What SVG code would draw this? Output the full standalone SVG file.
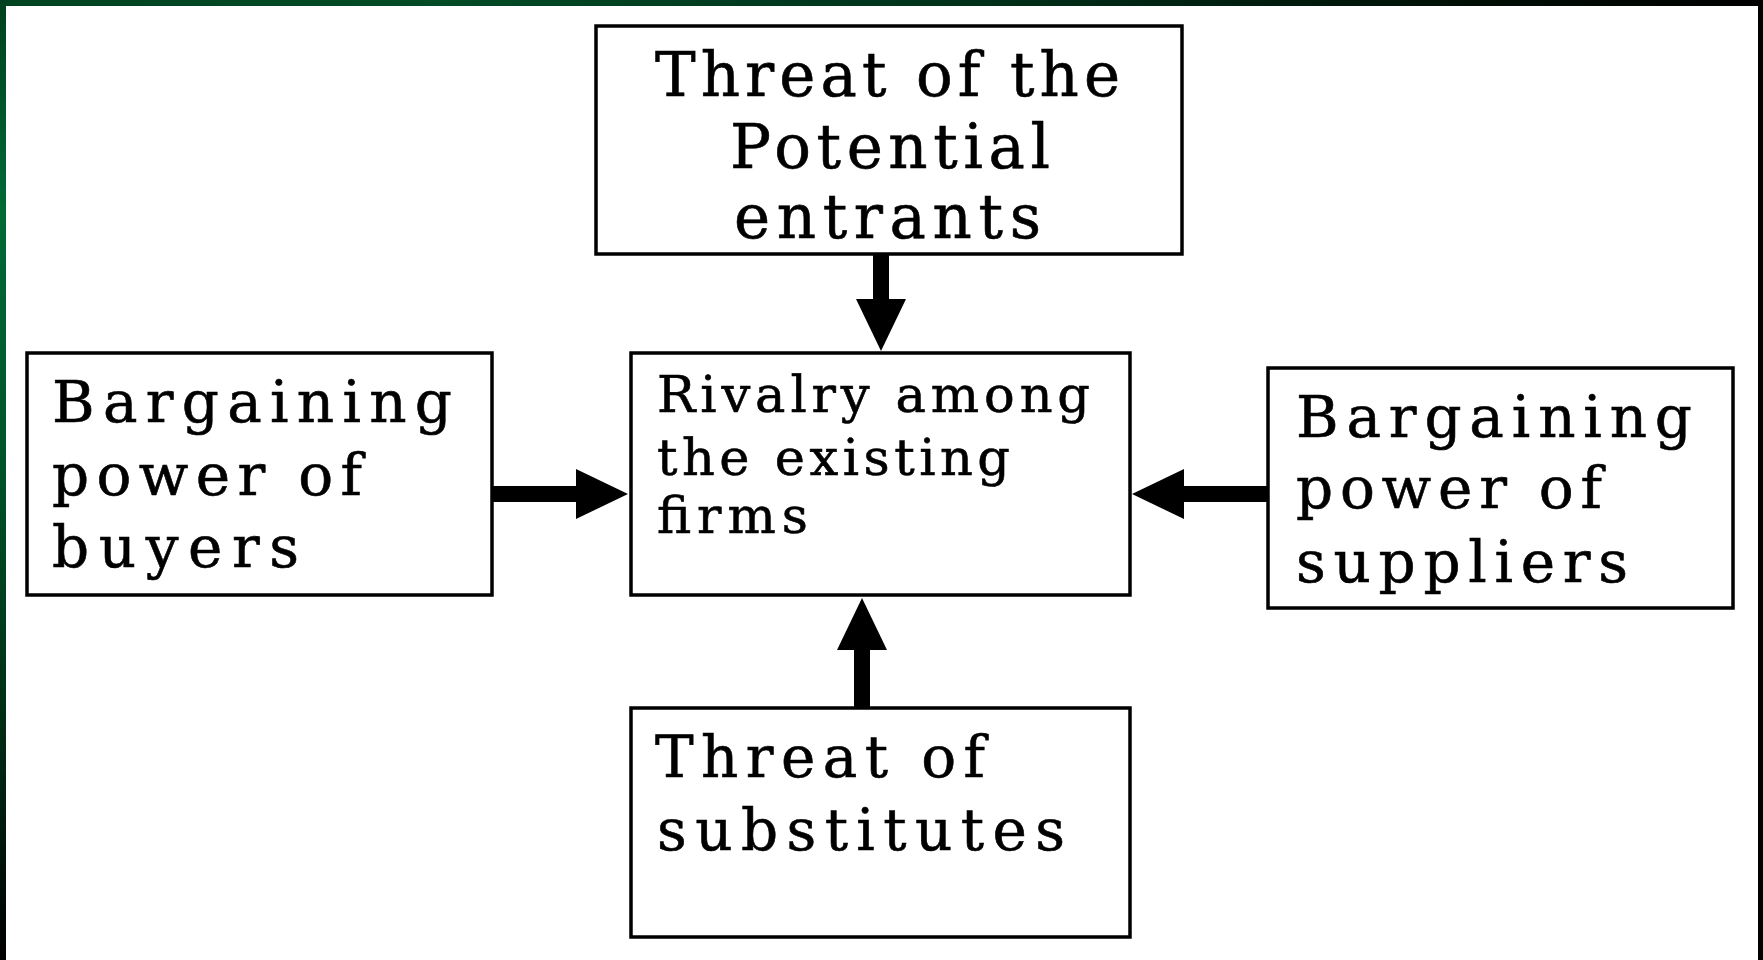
<svg xmlns="http://www.w3.org/2000/svg" width="1763" height="960" viewBox="0 0 1763 960">
<style>
.box{fill:#fff;stroke:#000;stroke-width:3.5}
.t{font-family:"DejaVu Serif","Liberation Serif",serif;fill:#000;stroke:#000;stroke-width:0.6}
.conn{stroke:#000;stroke-width:16;fill:none}
</style>
<defs>
<linearGradient id="gTop" x1="0" y1="0" x2="1" y2="0">
<stop offset="0" stop-color="#00431f"/>
<stop offset="0.25" stop-color="#004a26"/>
<stop offset="0.55" stop-color="#00301a"/>
<stop offset="0.85" stop-color="#000d05"/>
<stop offset="1" stop-color="#000"/>
</linearGradient>
<linearGradient id="gLeft" x1="0" y1="0" x2="0" y2="1">
<stop offset="0" stop-color="#00401f"/>
<stop offset="0.22" stop-color="#006a35"/>
<stop offset="0.5" stop-color="#005128"/>
<stop offset="0.8" stop-color="#002512"/>
<stop offset="1" stop-color="#000"/>
</linearGradient>
<marker id="ah" markerUnits="userSpaceOnUse" markerWidth="54" markerHeight="52" refX="1" refY="25" orient="auto" viewBox="0 0 54 52">
<path d="M0,0 L52,25 L0,50 Z" fill="#000"/>
</marker>
</defs>
<rect x="0" y="0" width="1763" height="960" fill="#fff"/>
<rect x="0" y="0" width="1763" height="6" fill="url(#gTop)"/>
<rect x="0" y="0" width="6" height="960" fill="url(#gLeft)"/>
<rect x="1758" y="0" width="5" height="960" fill="#000"/>

<g id="connectors">
<line class="conn" x1="881" y1="255" x2="881" y2="300" marker-end="url(#ah)"/>
<line class="conn" x1="862" y1="707" x2="862" y2="649" marker-end="url(#ah)"/>
<line class="conn" x1="492" y1="494" x2="577" y2="494" marker-end="url(#ah)"/>
<line class="conn" x1="1268" y1="494" x2="1183" y2="494" marker-end="url(#ah)"/>
</g>

<g id="node-entrants">
<rect class="box" x="596" y="26" width="586" height="228"/>
<text class="t" font-size="61" x="655" y="96" textLength="465" lengthAdjust="spacing">Threat of the</text>
<text class="t" font-size="61" x="730" y="168" textLength="320" lengthAdjust="spacing">Potential</text>
<text class="t" font-size="61" x="734" y="238" textLength="307" lengthAdjust="spacing">entrants</text>
</g>

<g id="node-rivalry">
<rect class="box" x="631" y="353" width="499" height="242"/>
<text class="t" font-size="51" x="657" y="412" textLength="433" lengthAdjust="spacing">Rivalry among</text>
<text class="t" font-size="51" x="657" y="475" textLength="353" lengthAdjust="spacing">the existing</text>
<text class="t" font-size="51" x="657" y="533" textLength="151" lengthAdjust="spacing">firms</text>
</g>

<g id="node-buyers">
<rect class="box" x="27" y="353" width="465" height="242"/>
<text class="t" font-size="58" x="52" y="422" textLength="400" lengthAdjust="spacing">Bargaining</text>
<text class="t" font-size="58" x="52" y="495" textLength="310" lengthAdjust="spacing">power of</text>
<text class="t" font-size="58" x="52" y="567" textLength="247" lengthAdjust="spacing">buyers</text>
</g>

<g id="node-suppliers">
<rect class="box" x="1268" y="368" width="465" height="240"/>
<text class="t" font-size="58" x="1296" y="437" textLength="396" lengthAdjust="spacing">Bargaining</text>
<text class="t" font-size="58" x="1296" y="508" textLength="306" lengthAdjust="spacing">power of</text>
<text class="t" font-size="58" x="1296" y="582" textLength="332" lengthAdjust="spacing">suppliers</text>
</g>

<g id="node-substitutes">
<rect class="box" x="631" y="708" width="499" height="229"/>
<text class="t" font-size="58" x="655" y="777" textLength="330" lengthAdjust="spacing">Threat of</text>
<text class="t" font-size="58" x="657" y="850" textLength="408" lengthAdjust="spacing">substitutes</text>
</g>
</svg>
